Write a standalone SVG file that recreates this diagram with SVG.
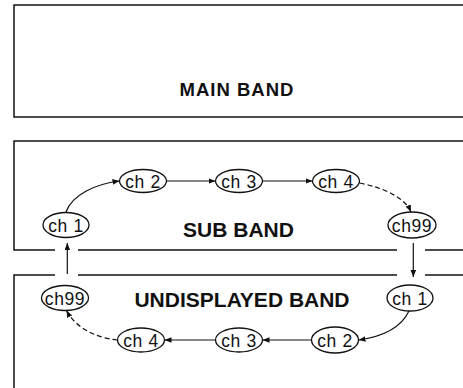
<svg xmlns="http://www.w3.org/2000/svg" width="463" height="388" viewBox="0 0 463 388">
<style>
.band{fill:none;stroke:#111;stroke-width:1.5}
.node ellipse{fill:#fff;stroke:#111;stroke-width:1.3}
.node text{font-family:"Liberation Sans",Arial,sans-serif;font-size:17.5px;letter-spacing:0.6px;fill:#111;text-anchor:middle}
.lbl{font-family:"Liberation Sans",Arial,sans-serif;font-weight:bold;fill:#111;text-anchor:middle}
.c{fill:none;stroke:#111;stroke-width:1.2;marker-end:url(#ah)}
.d{stroke-dasharray:5 3}
</style>
<defs>
<marker id="ah" viewBox="0 0 10 8" refX="10" refY="4" markerWidth="7" markerHeight="5.6" markerUnits="userSpaceOnUse" orient="auto">
<path d="M0,0 L10,4 L0,8 z" fill="#111"/>
</marker>
</defs>
<g id="bands">
<path class="band" d="M463,5 H14 V117 H463"/>
<path class="band" d="M463,141 H14 V250 H55 M78,250 H397 M425,250 H463"/>
<path class="band" d="M463,275 H425 M397,275 H78 M55,275 H14 V388"/>
</g>
<g id="labels">
<text class="lbl" x="237" y="95.5" font-size="18.5" letter-spacing="1">MAIN BAND</text>
<text class="lbl" x="238.5" y="236.5" font-size="21">SUB BAND</text>
<text class="lbl" x="242" y="306.5" font-size="21">UNDISPLAYED BAND</text>
</g>
<g id="connectors">
<path class="c" d="M66,212 C72,195 95,184 119.5,181"/>
<path class="c" d="M166.5,181 H215.5"/>
<path class="c" d="M262.5,181 H312.5"/>
<path class="c d" d="M359.5,183 C385,188 405,198 411,212"/>
<path class="c" d="M67.3,274 V243"/>
<path class="c" d="M413.3,243 V277"/>
<path class="c" d="M409,311 C400,330 380,337 358.5,340"/>
<path class="c" d="M311.5,340 H262.5"/>
<path class="c" d="M215.5,340 H164.5"/>
<path class="c d" d="M117.5,340 C95,338 75,327 66.5,310.5"/>
</g>
<g id="sub-ch1" class="node"><ellipse cx="66" cy="225" rx="23" ry="12.5"/><text x="66" y="231.5">ch 1</text></g>
<g id="sub-ch2" class="node"><ellipse cx="143" cy="181" rx="23.5" ry="11.5"/><text x="143" y="187.5">ch 2</text></g>
<g id="sub-ch3" class="node"><ellipse cx="239" cy="181" rx="23.5" ry="11.5"/><text x="239" y="187.5">ch 3</text></g>
<g id="sub-ch4" class="node"><ellipse cx="336" cy="181" rx="23.5" ry="11.5"/><text x="336" y="187.5">ch 4</text></g>
<g id="sub-ch99" class="node"><ellipse cx="412" cy="225" rx="24" ry="13"/><text x="412" y="231.5">ch99</text></g>
<g id="und-ch99" class="node"><ellipse cx="65" cy="298" rx="23.5" ry="12.5"/><text x="65" y="304.5">ch99</text></g>
<g id="und-ch4" class="node"><ellipse cx="141" cy="340" rx="23.5" ry="12"/><text x="141" y="346.5">ch 4</text></g>
<g id="und-ch3" class="node"><ellipse cx="239" cy="340" rx="23.5" ry="12"/><text x="239" y="346.5">ch 3</text></g>
<g id="und-ch2" class="node"><ellipse cx="335" cy="340" rx="23.5" ry="13"/><text x="335" y="346.5">ch 2</text></g>
<g id="und-ch1" class="node"><ellipse cx="410" cy="298" rx="23" ry="13"/><text x="410" y="304.5">ch 1</text></g>
</svg>
